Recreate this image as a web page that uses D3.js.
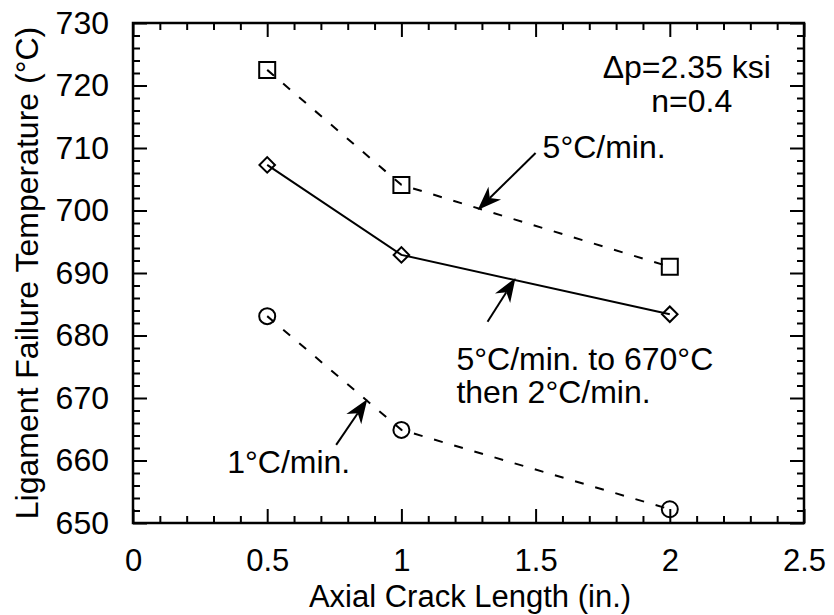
<!DOCTYPE html>
<html>
<head>
<meta charset="utf-8">
<script src="https://cdn.jsdelivr.net/npm/d3@7"></script>
<style>
    body { margin: 0; background: #fff; }
    text { font-family: "Liberation Sans", Arial, Helvetica, sans-serif; fill: #000; }
</style>
</head>
<body>
<div id="elements"></div>
<script>
// data
var crackLength = [0.5, 1, 2];
var rate5 = [722.5, 704.1, 691.0];         // 5°C/min.
var rate5to2 = [707.3, 692.9, 683.4];      // 5°C/min. to 670°C then 2°C/min.
var rate1 = [683.1, 664.9, 652.2];         // 1°C/min.

var xTicks = [0, 0.5, 1, 1.5, 2, 2.5];
var yTicks = [650, 660, 670, 680, 690, 700, 710, 720, 730];

var width = 834, height = 615;
var fontSize = 32;

var svg = d3.select("#elements").append("svg")
    .attr("width", width)
    .attr("height", height);

var x = d3.scaleLinear().domain([0, 2.5]).range([133, 804]),
    y = d3.scaleLinear().domain([650, 730]).range([523, 23]);

var xMinor = d3.range(0, 2.501, 0.1).filter(function (d) { return Math.abs(d * 2 - Math.round(d * 2)) > 1e-6; });
var yMinor = d3.range(650, 731, 2).filter(function (d) { return d % 10 !== 0; });

// axes: ticks point inward on all four sides
function styleAxis(sel, fs) {
    sel.select(".domain").remove();
    sel.selectAll("line").attr("stroke", "#000").attr("stroke-width", 2);
    sel.selectAll("text").attr("font-size", fs || fontSize).attr("fill", "#000")
        .attr("font-family", "Liberation Sans, Arial, sans-serif");
}

svg.append("g").attr("transform", "translate(0," + y(650) + ")")
    .call(d3.axisBottom(x).tickValues(xTicks).tickFormat(d3.format("")).tickSize(-14).tickSizeOuter(0).tickPadding(26))
    .call(styleAxis, 31);
svg.append("g").attr("transform", "translate(0," + y(650) + ")")
    .call(d3.axisBottom(x).tickValues(xMinor).tickFormat("").tickSize(-7).tickSizeOuter(0))
    .call(styleAxis);
svg.append("g").attr("transform", "translate(0," + y(730) + ")")
    .call(d3.axisTop(x).tickValues(xTicks).tickFormat("").tickSize(-14).tickSizeOuter(0))
    .call(styleAxis);
svg.append("g").attr("transform", "translate(0," + y(730) + ")")
    .call(d3.axisTop(x).tickValues(xMinor).tickFormat("").tickSize(-7).tickSizeOuter(0))
    .call(styleAxis);

svg.append("g").attr("transform", "translate(" + x(0) + ",0)")
    .call(d3.axisLeft(y).tickValues(yTicks).tickSize(-14).tickSizeOuter(0).tickPadding(24))
    .call(styleAxis);
svg.append("g").attr("transform", "translate(" + x(0) + ",0)")
    .call(d3.axisLeft(y).tickValues(yMinor).tickFormat("").tickSize(-7).tickSizeOuter(0))
    .call(styleAxis);
svg.append("g").attr("transform", "translate(" + x(2.5) + ",0)")
    .call(d3.axisRight(y).tickValues(yTicks).tickFormat("").tickSize(-14).tickSizeOuter(0))
    .call(styleAxis);
svg.append("g").attr("transform", "translate(" + x(2.5) + ",0)")
    .call(d3.axisRight(y).tickValues(yMinor).tickFormat("").tickSize(-7).tickSizeOuter(0))
    .call(styleAxis);

// frame
svg.append("rect")
    .attr("x", x(0)).attr("y", y(730))
    .attr("width", x(2.5) - x(0)).attr("height", y(650) - y(730))
    .attr("fill", "none").attr("stroke", "#000").attr("stroke-width", 2.5);

// axis titles
svg.append("text")
    .attr("x", 470).attr("y", 607)
    .attr("text-anchor", "middle").attr("font-size", 31)
    .text("Axial Crack Length (in.)");
svg.append("text")
    .attr("transform", "translate(38," + y(690) + ") rotate(-90)")
    .attr("text-anchor", "middle").attr("font-size", fontSize)
    .text("Ligament Failure Temperature (°C)");

// series
var series = [
    { values: rate5, dash: "9,12", symbol: "square" },
    { values: rate5to2, dash: null, symbol: "diamond" },
    { values: rate1, dash: "9,12", symbol: "circle" }
];

var line = d3.line()
    .x(function (d) { return x(d[0]); })
    .y(function (d) { return y(d[1]); });

series.forEach(function (s) {
    var pts = crackLength.map(function (c, i) { return [c, s.values[i]]; });
    svg.append("path")
        .datum(pts)
        .attr("d", line)
        .attr("fill", "none")
        .attr("stroke", "#000")
        .attr("stroke-width", 2)
        .attr("stroke-dasharray", s.dash);

    var sym;
    if (s.symbol === "square") sym = d3.symbol().type(d3.symbolSquare).size(16 * 16);
    else if (s.symbol === "diamond") sym = d3.symbol().type(d3.symbolSquare).size(11 * 11);
    else sym = d3.symbol().type(d3.symbolCircle).size(Math.PI * 8 * 8);

    svg.append("g").selectAll("path")
        .data(pts)
        .join("path")
        .attr("d", sym)
        .attr("transform", function (d) {
            return "translate(" + x(d[0]) + "," + y(d[1]) + ")" + (s.symbol === "diamond" ? " rotate(45)" : "");
        })
        .attr("fill", "none")
        .attr("stroke", "#000")
        .attr("stroke-width", 2);
});

// annotations
function arrow(x1, y1, x2, y2) {
    var px1 = x(x1), py1 = y(y1), px2 = x(x2), py2 = y(y2);
    var ang = Math.atan2(py2 - py1, px2 - px1);
    var len = 24, half = 9, notch = 17;
    var g = svg.append("g");
    g.append("line")
        .attr("x1", px1).attr("y1", py1)
        .attr("x2", px2 - Math.cos(ang) * notch).attr("y2", py2 - Math.sin(ang) * notch)
        .attr("stroke", "#000").attr("stroke-width", 2);
    var c = Math.cos(ang), sn = Math.sin(ang);
    function p(a, b) { return [px2 + a * c - b * sn, py2 + a * sn + b * c]; }
    var head = [p(0, 0), p(-len, -half), p(-notch, 0), p(-len, half)];
    g.append("path")
        .attr("d", "M" + head.join("L") + "Z")
        .attr("fill", "#000");
}

arrow(1.5, 709.2, 1.284, 700.1);
arrow(1.321, 682.2, 1.425, 689.2);
arrow(0.757, 662.5, 0.873, 669.8);

function label(str, xv, yv, anchor) {
    svg.append("text")
        .attr("x", x(xv)).attr("y", y(yv))
        .attr("text-anchor", anchor || "start")
        .attr("font-size", fontSize)
        .text(str);
}

label("Δp=2.35 ksi", 2.063, 721.2, "middle");
label("n=0.4", 2.082, 715.8, "middle");
label("5°C/min.", 1.526, 708.4);
label("5°C/min. to 670°C", 1.205, 674.5);
label("then 2°C/min.", 1.205, 669.2);
label("1°C/min.", 0.351, 658.0);
</script>
</body>
</html>
